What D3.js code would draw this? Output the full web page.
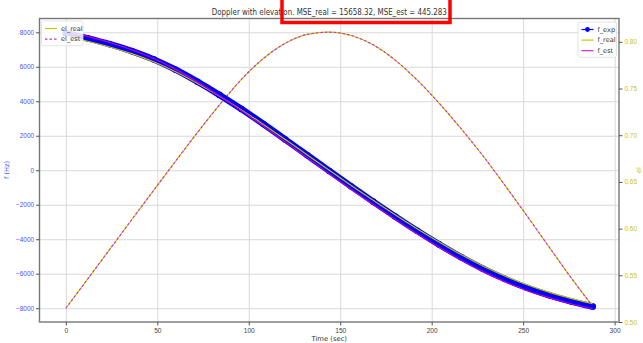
<!DOCTYPE html>
<html>
<head>
<meta charset="utf-8">
<script src="https://cdn.jsdelivr.net/npm/d3@7"></script>
<style>
  body { margin: 0; background: #fff; }
  svg { display: block; font-family: "DejaVu Sans", sans-serif; }
</style>
</head>
<body>
<div id="chart"></div>
<script>
var svgWidth = 643;
var svgHeight = 343;

// Time samples (sec)
var time = [0, 12, 24, 36, 48, 60, 72, 84, 96, 108, 120, 132, 144, 156, 168, 180, 192, 204, 216, 228, 240, 252, 264, 276, 288];

// Doppler (Hz), left axis
var fExp  = [7950, 7650, 7310, 6910, 6430, 5830, 5130, 4370, 3550, 2680, 1780, 870, -40, -940, -1820, -2680, -3510, -4300, -5040, -5710, -6300, -6810, -7240, -7600, -7900];
var fReal = [7780, 7480, 7150, 6760, 6290, 5710, 5030, 4290, 3500, 2660, 1780, 890, 0, -880, -1740, -2580, -3390, -4160, -4890, -5550, -6130, -6640, -7070, -7430, -7740];
var fEst  = [8070, 7760, 7410, 6990, 6480, 5850, 5110, 4310, 3450, 2550, 1630, 710, -210, -1110, -1990, -2850, -3680, -4470, -5210, -5880, -6470, -6970, -7390, -7740, -8020];

// Elevation, right axis
var elReal = [0.5147, 0.5462, 0.5778, 0.6095, 0.6410, 0.6722, 0.7030, 0.7325, 0.7598, 0.7822, 0.7985, 0.8080, 0.8104, 0.8068, 0.7968, 0.7805, 0.7592, 0.7345, 0.7072, 0.6780, 0.6465, 0.6140, 0.5808, 0.5480, 0.5168];
var elEst  = [0.5147, 0.5462, 0.5778, 0.6095, 0.6410, 0.6722, 0.7030, 0.7325, 0.7598, 0.7822, 0.7985, 0.8080, 0.8104, 0.8068, 0.7968, 0.7805, 0.7592, 0.7345, 0.7072, 0.6780, 0.6465, 0.6140, 0.5808, 0.5480, 0.5168];

var xTicks = [0, 50, 100, 150, 200, 250, 300];
var leftTicks = [-8000, -6000, -4000, -2000, 0, 2000, 4000, 6000, 8000];
var rightTicks = [0.50, 0.55, 0.60, 0.65, 0.70, 0.75, 0.80];

var titleText = "Doppler with elevation. MSE_real = 15658.32, MSE_est = 445.283";

var plot = { left: 39.5, top: 18.5, right: 619, bottom: 322 };

var svg = d3.select("#chart").append("svg").attr("width", svgWidth).attr("height", svgHeight);

var xScale = d3.scaleLinear().domain([-14.4, 302.4]).range([plot.left, plot.right]);
var yLeft = d3.scaleLinear().domain([-8800, 8800]).range([plot.bottom, plot.top]);
var yRight = d3.scaleLinear().domain([0.5, 0.825]).range([plot.bottom, plot.top]);

// Grid lines
svg.append("g")
    .attr("transform", `translate(0, ${plot.bottom})`)
    .call(d3.axisBottom(xScale).tickValues(xTicks).tickSize(-(plot.bottom - plot.top)).tickFormat(""))
    .call(g => g.select(".domain").remove())
    .selectAll("line").attr("stroke", "#d9d9d9").attr("stroke-width", 1);

svg.append("g")
    .attr("transform", `translate(${plot.left}, 0)`)
    .call(d3.axisLeft(yLeft).tickValues(leftTicks).tickSize(-(plot.right - plot.left)).tickFormat(""))
    .call(g => g.select(".domain").remove())
    .selectAll("line").attr("stroke", "#d9d9d9").attr("stroke-width", 1);

// Elevation lines (right axis)
var elLine = d3.line().x((d, i) => xScale(time[i])).y(d => yRight(d)).curve(d3.curveMonotoneX);

svg.append("path").datum(elReal).attr("d", elLine)
    .attr("fill", "none").attr("stroke", "#c8c800").attr("stroke-width", 1.1);
svg.append("path").datum(elEst).attr("d", elLine)
    .attr("fill", "none").attr("stroke", "#d02ad0").attr("stroke-width", 1.1)
    .attr("stroke-dasharray", "2.5,2");

// Doppler lines (left axis)
var fLine = d3.line().x((d, i) => xScale(time[i])).y(d => yLeft(d)).curve(d3.curveMonotoneX);

svg.append("path").datum(fExp).attr("d", fLine)
    .attr("fill", "none").attr("stroke", "#0000ff").attr("stroke-width", 6.5)
    .attr("stroke-linecap", "round");
svg.append("g").selectAll("circle").data(fExp).join("circle")
    .attr("cx", (d, i) => xScale(time[i])).attr("cy", d => yLeft(d))
    .attr("r", 3.3).attr("fill", "#0000ff");

svg.append("path").datum(fReal).attr("d", fLine)
    .attr("fill", "none").attr("stroke", "#bfbf00").attr("stroke-width", 1.2);
svg.append("path").datum(fEst).attr("d", fLine)
    .attr("fill", "none").attr("stroke", "#c000c0").attr("stroke-width", 1.2);

// Spines
svg.append("rect")
    .attr("x", plot.left).attr("y", plot.top)
    .attr("width", plot.right - plot.left).attr("height", plot.bottom - plot.top)
    .attr("fill", "none").attr("stroke", "#777").attr("stroke-width", 1.4);

// Axes
var xAxis = svg.append("g")
    .attr("transform", `translate(0, ${plot.bottom})`)
    .call(d3.axisBottom(xScale).tickValues(xTicks).tickSize(3.5).tickPadding(2.5));
xAxis.select(".domain").remove();
xAxis.selectAll("line").attr("stroke", "#555");
xAxis.selectAll("text").attr("fill", "#444").attr("font-size", "6.6px");

var leftAxis = svg.append("g")
    .attr("transform", `translate(${plot.left}, 0)`)
    .call(d3.axisLeft(yLeft).tickValues(leftTicks).tickSize(3.5).tickPadding(2)
        .tickFormat(d => d3.format("d")(d).replace("-", "\u2212")));
leftAxis.select(".domain").remove();
leftAxis.selectAll("line").attr("stroke", "#555");
leftAxis.selectAll("text").attr("fill", "#4d4dff").attr("font-size", "6.4px");

var rightAxis = svg.append("g")
    .attr("transform", `translate(${plot.right}, 0)`)
    .call(d3.axisRight(yRight).tickValues(rightTicks).tickSize(3.5).tickPadding(2)
        .tickFormat(d3.format(".2f")));
rightAxis.select(".domain").remove();
rightAxis.selectAll("line").attr("stroke", "#555");
rightAxis.selectAll("text").attr("fill", "#c4c41a").attr("font-size", "6.4px");

// Axis labels
svg.append("text")
    .attr("x", (plot.left + plot.right) / 2).attr("y", 341)
    .attr("text-anchor", "middle").attr("font-size", "6.8px").attr("fill", "#333")
    .text("Time (sec)");

svg.append("text")
    .attr("transform", `translate(9, 170) rotate(-90)`)
    .attr("text-anchor", "middle").attr("font-size", "6.6px").attr("fill", "#4d4dff")
    .text("f (Hz)");

svg.append("text")
    .attr("transform", `translate(641, 170) rotate(-90)`)
    .attr("text-anchor", "middle").attr("font-size", "6.6px").attr("fill", "#c4c41a")
    .text("el");

// Title
svg.append("text")
    .attr("x", (plot.left + plot.right) / 2).attr("y", 14.5)
    .attr("text-anchor", "middle").attr("font-size", "8.6px").attr("fill", "#333")
    .attr("textLength", 235).attr("lengthAdjust", "spacingAndGlyphs")
    .text(titleText);

// Red highlight box around part of the title
svg.append("rect")
    .attr("x", 282).attr("y", -4).attr("width", 168).attr("height", 26.5)
    .attr("fill", "none").attr("stroke", "#ff0000").attr("stroke-width", 3.5);

// Legends
function drawLegend(x, y, w, entries) {
    var g = svg.append("g").attr("transform", `translate(${x}, ${y})`);
    g.append("rect").attr("width", w).attr("height", entries.length * 10.6 + 3.5)
        .attr("rx", 2).attr("fill", "#fff").attr("fill-opacity", 0.85)
        .attr("stroke", "#ddd").attr("stroke-width", 0.8);
    entries.forEach(function(e, i) {
        var cy = 7.5 + i * 10.6;
        g.append("line").attr("x1", 3.5).attr("x2", 15.5).attr("y1", cy).attr("y2", cy)
            .attr("stroke", e.color).attr("stroke-width", 1.2)
            .attr("stroke-dasharray", e.dash || null);
        if (e.marker) {
            g.append("circle").attr("cx", 9.5).attr("cy", cy).attr("r", 2.4).attr("fill", e.color);
        }
        g.append("text").attr("x", 19.5).attr("y", cy + 2.3)
            .attr("font-size", "6.6px").attr("fill", "#333").text(e.label);
    });
}

drawLegend(41.5, 21, 41.5, [
    { label: "el_real", color: "#c8c800" },
    { label: "el_est", color: "#d02ad0", dash: "2.5,2" }
]);

drawLegend(578, 22, 38.5, [
    { label: "f_exp", color: "#0000ff", marker: true },
    { label: "f_real", color: "#c8c800" },
    { label: "f_est", color: "#d02ad0" }
]);
</script>
</body>
</html>
